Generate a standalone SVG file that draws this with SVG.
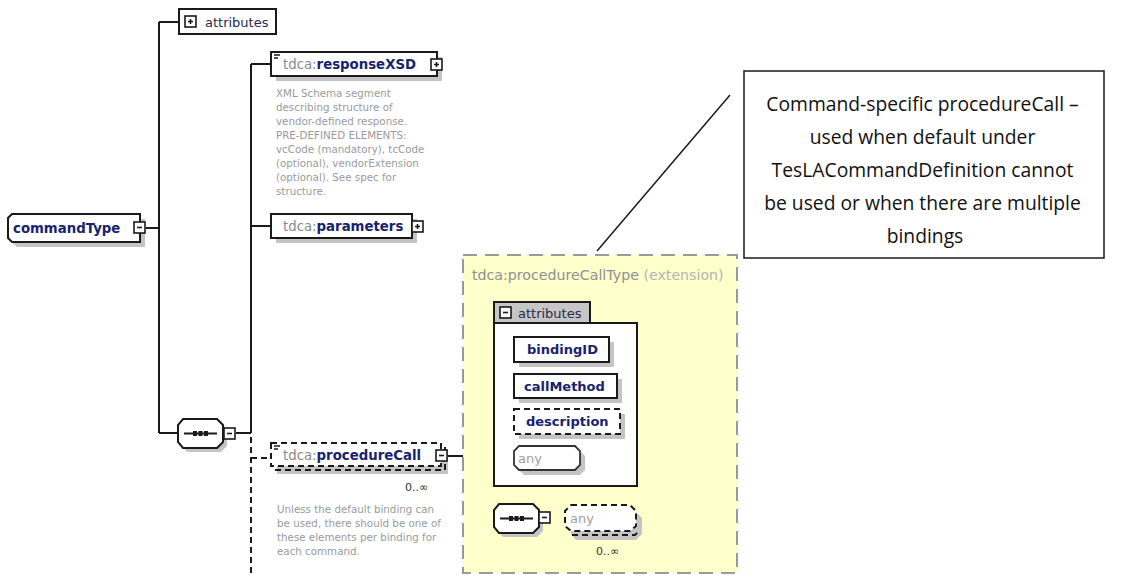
<svg xmlns="http://www.w3.org/2000/svg" width="1136" height="575" viewBox="0 0 1136 575">
  <style>
    .ln { fill: none; stroke: #1a1a1a; stroke-width: 2; }
    .dl { fill: none; stroke: #1a1a1a; stroke-width: 2; stroke-dasharray: 6 4; }
    .box { fill: #ffffff; stroke: #1a1a1a; stroke-width: 2; }
    .dbox { fill: #ffffff; stroke: #1a1a1a; stroke-width: 2; stroke-dasharray: 6 4; }
    .shadow { fill: #c4c4c4; }
    .ico { fill: #ffffff; stroke: #1a1a1a; stroke-width: 1.6; }
    .pfx { font-family: "DejaVu Sans", Verdana, sans-serif; font-size: 13.3px; fill: #8a8a8a; }
    .nm { font-family: "DejaVu Sans", Verdana, sans-serif; font-size: 13.3px; font-weight: bold; fill: #17236e; }
    .nm2 { font-family: "DejaVu Sans", Verdana, sans-serif; font-size: 13px; font-weight: bold; fill: #17236e; }
    .small { font-family: "DejaVu Sans", Verdana, sans-serif; font-size: 13px; fill: #2a2a4a; }
    .doc { font-family: "DejaVu Sans", Verdana, sans-serif; font-size: 10.3px; fill: #9a9a9a; }
    .occ { font-family: "DejaVu Sans", Verdana, sans-serif; font-size: 11px; fill: #333333; }
    .gray { font-family: "DejaVu Sans", Verdana, sans-serif; font-size: 13px; fill: #a0a0a0; }
    .title { font-family: "DejaVu Sans", Verdana, sans-serif; font-size: 14.2px; }
    .note { font-family: "Open Sans", "Liberation Sans", sans-serif; font-size: 19.3px; fill: #111111; text-anchor: middle; }
  </style>
  <defs>
    <!-- expand / collapse buttons -->
    <g id="plus">
      <rect class="ico" x="0" y="0" width="11" height="11"/>
      <path d="M3 5.5H8M5.5 3V8" stroke="#1a1a1a" stroke-width="1.6"/>
    </g>
    <g id="minus">
      <rect class="ico" x="0" y="0" width="11" height="11"/>
      <path d="M3 5.5H8" stroke="#1a1a1a" stroke-width="1.6"/>
    </g>
    <!-- sequence compositor -->
    <g id="seq">
      <path d="M5 0H39L45 6V23L39 29H5L0 23V6Z" transform="translate(4 4)" class="shadow"/>
      <path class="box" d="M5 0H39L45 6V23L39 29H5L0 23V6Z"/>
      <path d="M6 14.5H39" stroke="#1a1a1a" stroke-width="2"/>
      <rect x="15" y="12" width="4" height="5" fill="#1a1a1a"/>
      <rect x="20.5" y="12" width="4" height="5" fill="#1a1a1a"/>
      <rect x="26" y="12" width="4" height="5" fill="#1a1a1a"/>
    </g>
    <!-- documentation marker -->
    <path id="docmark" d="M0 0H6M0 3H4" stroke="#1a1a1a" stroke-width="1.4"/>
  </defs>

  <!-- connectors -->
  <g id="connectors">
    <path class="ln" d="M146 228H159M159 22V433M159 22H179M159 433H178"/>
    <path class="ln" d="M236 433H251M251 64V433M251 64H271M251 226H271"/>
    <path class="dl" d="M251 437V575M251 458H271"/>
    <path class="ln" d="M447 456H474M474 394V518M474 394H494M474 518H494M551 518H565"/>
    <path d="M730 95L597 251" stroke="#1a1a1a" stroke-width="1.5" fill="none"/>
  </g>

  <!-- complex type being described -->
  <g id="commandType">
    <path class="shadow" d="M17 219H145V247H17L13 243V223Z"/>
    <path class="box" d="M12 214H140V242H12L8 238V218Z"/>
    <text class="nm" x="13" y="233">commandType</text>
    <use href="#minus" x="134" y="222"/>
  </g>

  <g id="attributes">
    <rect class="box" x="179" y="9" width="97" height="25"/>
    <use href="#plus" x="185" y="16"/>
    <text class="small" x="205" y="27">attributes</text>
  </g>

  <g id="responseXSD">
    <rect class="shadow" x="276" y="57" width="166" height="24"/>
    <rect class="box" x="271" y="52" width="166" height="24"/>
    <use href="#docmark" x="274" y="55"/>
    <text x="283" y="69"><tspan class="pfx">tdca:</tspan><tspan class="nm">responseXSD</tspan></text>
    <use href="#plus" x="431" y="59"/>
    <text class="doc">
      <tspan x="276" y="97">XML Schema segment</tspan>
      <tspan x="276" y="111">describing structure of</tspan>
      <tspan x="276" y="125">vendor-defined response.</tspan>
      <tspan x="276" y="139">PRE-DEFINED ELEMENTS:</tspan>
      <tspan x="276" y="153">vcCode (mandatory), tcCode</tspan>
      <tspan x="276" y="167">(optional), vendorExtension</tspan>
      <tspan x="276" y="181">(optional).  See spec for</tspan>
      <tspan x="276" y="195">structure.</tspan>
    </text>
  </g>

  <g id="parameters">
    <rect class="shadow" x="276" y="219" width="141" height="24"/>
    <rect class="box" x="271" y="214" width="141" height="24"/>
    <text x="283" y="231"><tspan class="pfx">tdca:</tspan><tspan class="nm">parameters</tspan></text>
    <use href="#plus" x="412" y="221"/>
  </g>

  <g id="sequence">
    <use href="#seq" x="178" y="419"/>
    <use href="#minus" x="224" y="428"/>
  </g>

  <g id="procedureCall">
    <rect class="shadow" x="277" y="449" width="171" height="25"/>
    <path class="dl" d="M275 470H445V447"/>
    <rect class="dbox" x="271" y="443" width="170" height="23"/>
    <use href="#docmark" x="274" y="446"/>
    <text x="283" y="460"><tspan class="pfx">tdca:</tspan><tspan class="nm">procedureCall</tspan></text>
    <use href="#minus" x="436" y="450"/>
    <text class="occ" x="405" y="491">0..∞</text>
    <text class="doc">
      <tspan x="277" y="513">Unless the default binding can</tspan>
      <tspan x="277" y="527">be used, there should be one of</tspan>
      <tspan x="277" y="541">these elements per binding for</tspan>
      <tspan x="277" y="555">each command.</tspan>
    </text>
  </g>

  <!-- extension type content -->
  <g id="procedureCallType">
    <rect x="463" y="255" width="274" height="318" fill="#ffffcc" stroke="#9a9a9a" stroke-width="2" stroke-dasharray="14 8"/>
    <text class="title" x="472" y="280"><tspan fill="#909090">tdca:procedureCallType</tspan><tspan fill="#b4b4b4"> (extension)</tspan></text>
  </g>

  <g id="attributeGroup">
    <path class="box" d="M494 302H590V323H637V486H494Z"/>
    <rect x="494" y="302" width="96" height="21" fill="#c6c6c6" stroke="#1a1a1a" stroke-width="2"/>
    <use href="#minus" x="500" y="307"/>
    <text class="small" x="518" y="318">attributes</text>
  </g>

  <g id="bindingID">
    <rect class="shadow" x="519" y="342" width="95" height="25"/>
    <rect class="box" x="514" y="337" width="95" height="25"/>
    <text class="nm2" x="527" y="354">bindingID</text>
  </g>

  <g id="callMethod">
    <rect class="shadow" x="519" y="379" width="103" height="24"/>
    <rect class="box" x="514" y="374" width="103" height="24"/>
    <text class="nm2" x="524" y="391">callMethod</text>
  </g>

  <g id="description">
    <rect class="shadow" x="519" y="414" width="106" height="25"/>
    <rect class="dbox" x="514" y="409" width="106" height="25"/>
    <text class="nm2" x="526" y="426">description</text>
  </g>

  <g id="anyAttribute">
    <path class="shadow" d="M524 451H580L585 456V470L580 475H524L519 470V456Z"/>
    <path d="M519 446H575L580 451V465L575 470H519L514 465V451Z" fill="#ffffff" stroke="#333333" stroke-width="1.8"/>
    <text class="gray" x="518" y="463">any</text>
  </g>

  <g id="sequence2">
    <use href="#seq" x="494" y="504"/>
    <use href="#minus" x="539" y="512"/>
  </g>

  <g id="anyElement">
    <path class="shadow" d="M576 512H636L642 518V534L636 540H576L571 534V518Z"/>
    <path class="dl" d="M572 535H635L640 530"/>
    <path d="M571 505H630L636 511V526L630 531H571L565 526V511Z" fill="#ffffff" stroke="#1a1a1a" stroke-width="2" stroke-dasharray="6 4"/>
    <text class="gray" x="570" y="523">any</text>
    <text class="occ" x="596" y="555">0..∞</text>
  </g>

  <!-- annotation -->
  <g id="note">
    <rect x="744" y="71" width="360" height="187" fill="#ffffff" stroke="#1a1a1a" stroke-width="1.5"/>
    <text class="note">
      <tspan x="925" y="111">Command-specific procedureCall –</tspan>
      <tspan x="925" y="144">used when default under</tspan>
      <tspan x="925" y="177">TesLACommandDefinition cannot</tspan>
      <tspan x="925" y="210">be used or when there are multiple</tspan>
      <tspan x="925" y="243">bindings</tspan>
    </text>
  </g>
</svg>
